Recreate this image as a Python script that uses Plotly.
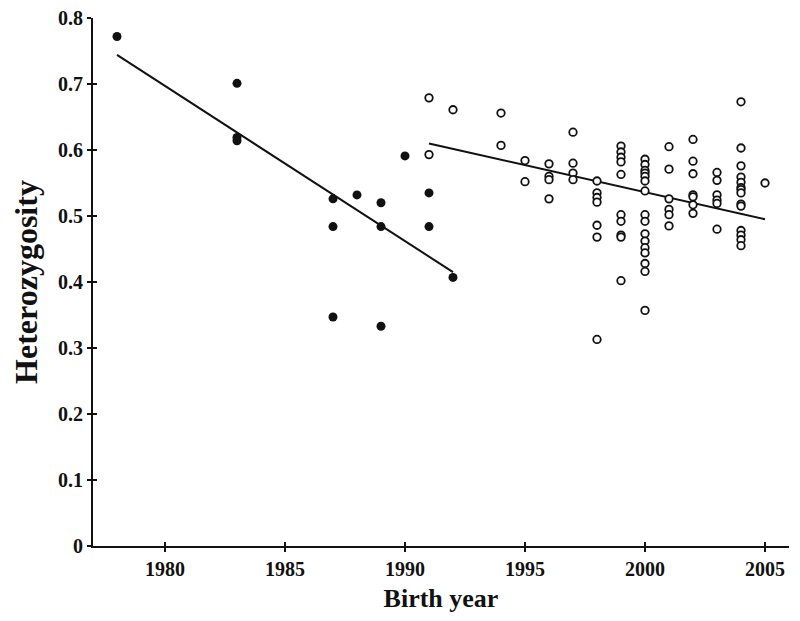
import plotly.graph_objs as go

# filled circles: early cohorts
filled_years = [1978,
                1983, 1983, 1983,
                1987, 1987, 1987,
                1988,
                1989, 1989, 1989,
                1990,
                1991, 1991,
                1992]
filled_het = [0.772,
              0.701, 0.619, 0.614,
              0.526, 0.484, 0.347,
              0.532,
              0.520, 0.484, 0.333,
              0.591,
              0.535, 0.484,
              0.407]

# open circles: later cohorts
open_years = ([1991] * 2 + [1992] + [1994] * 2 + [1995] * 2 + [1996] * 4 + [1997] * 4
              + [1998] * 7 + [1999] * 10 + [2000] * 16 + [2001] * 6 + [2002] * 7
              + [2003] * 6 + [2004] * 14 + [2005])
open_het = [0.679, 0.593,
            0.661,
            0.656, 0.607,
            0.584, 0.552,
            0.579, 0.560, 0.555, 0.526,
            0.627, 0.580, 0.565, 0.555,
            0.553, 0.535, 0.528, 0.521, 0.486, 0.468, 0.313,
            0.606, 0.597, 0.589, 0.582, 0.563, 0.502, 0.492, 0.471, 0.468, 0.402,
            0.586, 0.578, 0.569, 0.565, 0.560, 0.553, 0.538, 0.502, 0.492, 0.473,
            0.462, 0.452, 0.444, 0.428, 0.416, 0.357,
            0.605, 0.571, 0.526, 0.510, 0.502, 0.485,
            0.616, 0.583, 0.564, 0.532, 0.529, 0.517, 0.504,
            0.566, 0.554, 0.532, 0.524, 0.519, 0.480,
            0.673, 0.603, 0.576, 0.559, 0.551, 0.543, 0.540, 0.535, 0.518, 0.515,
            0.478, 0.471, 0.464, 0.455,
            0.550]

# regression lines (end points)
fit_filled_years = [1978, 1992]
fit_filled_het = [0.744, 0.415]
fit_open_years = [1991, 2005]
fit_open_het = [0.610, 0.495]

x_ticks = [1980, 1985, 1990, 1995, 2000, 2005]
y_ticks = [0, 0.1, 0.2, 0.3, 0.4, 0.5, 0.6, 0.7, 0.8]
y_tick_text = ["0", "0.1", "0.2", "0.3", "0.4", "0.5", "0.6", "0.7", "0.8"]

ink = "#111111"
serif = "Liberation Serif"

fig = go.Figure()

fig.add_trace(go.Scatter(
    x=fit_filled_years, y=fit_filled_het, mode="lines",
    line=dict(color=ink, width=2), showlegend=False, hoverinfo="skip",
))
fig.add_trace(go.Scatter(
    x=fit_open_years, y=fit_open_het, mode="lines",
    line=dict(color=ink, width=2), showlegend=False, hoverinfo="skip",
))
fig.add_trace(go.Scatter(
    x=filled_years, y=filled_het, mode="markers",
    marker=dict(size=9, color=ink, line=dict(width=0)),
    showlegend=False,
))
fig.add_trace(go.Scatter(
    x=open_years, y=open_het, mode="markers",
    marker=dict(size=7.5, color="white", symbol="circle",
                line=dict(color=ink, width=1.8)),
    showlegend=False,
))
# dummy trace so the overlay axes (inner half of the crossing ticks) are drawn
fig.add_trace(go.Scatter(
    x=[1977], y=[0], xaxis="x2", yaxis="y2", mode="markers",
    marker=dict(opacity=0), showlegend=False, hoverinfo="skip",
))

# page body adds an 8px offset, margins compensate for it
fig.update_layout(
    width=800,
    height=621,
    margin=dict(l=85, r=19, t=10, b=83),
    plot_bgcolor="white",
    paper_bgcolor="white",
    font=dict(family=serif, color=ink),
    xaxis=dict(
        range=[1977, 2006],
        tickvals=x_ticks,
        ticks="outside", ticklen=4, tickwidth=1.5, tickcolor=ink,
        showline=True, linewidth=2, linecolor=ink,
        showgrid=False, zeroline=False, automargin=False,
        ticklabeloverflow="allow",
        tickfont=dict(family=serif, size=20, color=ink, weight="bold"),
        title=dict(text="<b>Birth year</b>", font=dict(family=serif, size=26, color=ink),
                   standoff=10),
    ),
    yaxis=dict(
        range=[0, 0.8],
        tickvals=y_ticks, ticktext=y_tick_text,
        ticks="outside", ticklen=4, tickwidth=1.5, tickcolor=ink,
        showline=True, linewidth=2, linecolor=ink,
        showgrid=False, zeroline=False, automargin=False,
        ticklabeloverflow="allow",
        tickfont=dict(family=serif, size=20, color=ink, weight="bold"),
        title=dict(text="<b>Heterozygosity</b>", font=dict(family=serif, size=32, color=ink),
                   standoff=20),
    ),
    xaxis2=dict(
        overlaying="x", matches="x", anchor="y2",
        tickvals=x_ticks, ticks="inside", ticklen=4, tickwidth=1.5, tickcolor=ink,
        showticklabels=False, showgrid=False, zeroline=False, showline=False,
    ),
    yaxis2=dict(
        overlaying="y", matches="y", anchor="x2",
        tickvals=y_ticks, ticks="inside", ticklen=4, tickwidth=1.5, tickcolor=ink,
        showticklabels=False, showgrid=False, zeroline=False, showline=False,
    ),
)

fig.write_html("out.html")
